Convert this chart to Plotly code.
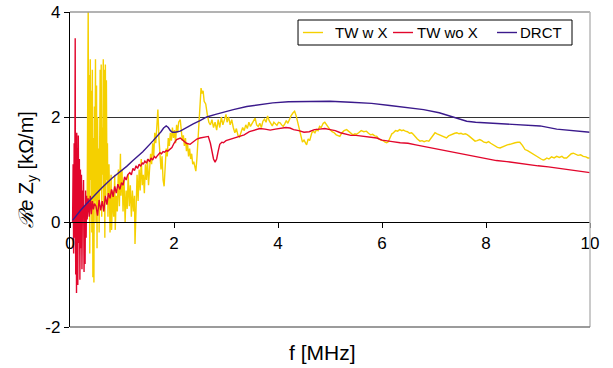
import plotly.graph_objects as go

# ---- series: TW w X (yellow) ----
f_tw_x = [0.33, 0.35, 0.36, 0.37, 0.38, 0.39, 0.40, 0.41, 0.42, 0.43, 0.44, 0.45, 0.46, 0.47, 0.48,
          0.49, 0.50, 0.51, 0.52, 0.53, 0.54, 0.55, 0.56, 0.58, 0.59, 0.60, 0.61, 0.62, 0.63, 0.64,
          0.65, 0.66, 0.67, 0.68, 0.69, 0.70, 0.71, 0.72, 0.73, 0.75, 0.77, 0.79, 0.80, 0.82, 0.84,
          0.86, 0.87, 0.89, 0.91, 0.93, 0.95, 0.97, 0.98, 1.00, 1.02, 1.04, 1.06, 1.08, 1.10, 1.12,
          1.14, 1.16, 1.18, 1.20, 1.22, 1.24, 1.25, 1.27, 1.29, 1.31, 1.33, 1.35, 1.37, 1.39, 1.41,
          1.43, 1.45, 1.47, 1.49, 1.51, 1.53, 1.55, 1.57, 1.59, 1.61, 1.63, 1.65, 1.67, 1.69, 1.71,
          1.73, 1.75, 1.77, 1.79, 1.81, 1.83, 1.85, 1.87, 1.89, 1.91, 1.93, 1.95, 1.97, 1.99, 2.01,
          2.03, 2.05, 2.07, 2.09, 2.12, 2.14, 2.16, 2.18, 2.20, 2.22, 2.24, 2.26, 2.28, 2.30, 2.32,
          2.34, 2.36, 2.38, 2.40, 2.42, 2.44, 2.46, 2.48, 2.50, 2.52, 2.54, 2.56, 2.58, 2.61, 2.64,
          2.67, 2.70, 2.73, 2.76, 2.79, 2.82, 2.85, 2.88, 2.91, 2.94, 2.97, 3.00, 3.02, 3.05, 3.08,
          3.11, 3.14, 3.17, 3.20, 3.23, 3.26, 3.29, 3.32, 3.35, 3.38, 3.41, 3.44, 3.47, 3.50, 3.53,
          3.56, 3.59, 3.62, 3.65, 3.68, 3.71, 3.74, 3.77, 3.80, 3.83, 3.86, 3.89, 3.92, 3.95, 3.98,
          4.01, 4.04, 4.07, 4.10, 4.13, 4.16, 4.19, 4.22, 4.25, 4.29, 4.32, 4.35, 4.38, 4.41, 4.44,
          4.47, 4.50, 4.53, 4.55, 4.58, 4.61, 4.65, 4.68, 4.71, 4.74, 4.77, 4.80, 4.83, 4.87, 4.90,
          4.93, 4.96, 5.00, 5.04, 5.08, 5.12, 5.16, 5.19, 5.23, 5.27, 5.32, 5.36, 5.40, 5.44, 5.48,
          5.51, 5.55, 5.60, 5.65, 5.70, 5.74, 5.78, 5.82, 5.86, 5.90, 5.94, 5.98, 6.02, 6.06, 6.09,
          6.12, 6.15, 6.19, 6.22, 6.26, 6.30, 6.34, 6.38, 6.41, 6.45, 6.49, 6.53, 6.57, 6.60, 6.64,
          6.68, 6.73, 6.77, 6.81, 6.86, 6.90, 6.94, 6.98, 7.02, 7.06, 7.10, 7.14, 7.18, 7.21, 7.24,
          7.28, 7.32, 7.36, 7.40, 7.44, 7.48, 7.52, 7.56, 7.60, 7.63, 7.67, 7.71, 7.75, 7.79, 7.83,
          7.88, 7.92, 7.96, 8.01, 8.05, 8.09, 8.13, 8.18, 8.22, 8.27, 8.31, 8.36, 8.41, 8.46, 8.51,
          8.56, 8.61, 8.65, 8.70, 8.75, 8.80, 8.86, 8.91, 8.96, 9.01, 9.06, 9.10, 9.13, 9.17, 9.21,
          9.26, 9.31, 9.36, 9.41, 9.46, 9.50, 9.55, 9.60, 9.64, 9.68, 9.72, 9.77, 9.82, 9.87, 9.92,
          9.96, 10.0]
v_tw_x = [0.3, 4.1, 0.2, 2.8, -0.6, 3.1, 0.8, 2.5, -0.2, 2.9, -1.05, 1.6, -1.15, 2.2, 0.4,
          3.1, 0.0, 2.6, -0.5, 2.0, 0.3, 1.4, -0.2, 2.9, 0.6, 3.0, 0.1, 1.8, 0.9, 3.1,
          0.2, 2.9, -0.3, 3.0, 0.5, 2.7, 0.8, 1.5, 0.1, 1.1, -0.2, 0.9, -0.15, 0.6, 0.1,
          0.9, -0.15, 0.5, 0.2, 1.0, 0.3, 1.3, 0.5, 1.0, 0.2, 0.8, 0.0, 0.6, 0.25, 0.9,
          0.3, 0.7, 0.1, 0.6, 0.2, 0.5, -0.42, 0.6, 0.9, 0.4, 1.0, 0.6, 1.2, 0.7, 0.9,
          0.55, 1.1, 0.8, 1.2, 0.7, 1.0, 1.3, 1.1, 1.5, 1.25, 1.7, 1.5, 1.9, 2.14, 1.6,
          1.3, 1.0, 1.25, 0.8, 0.68, 1.1, 1.4, 1.25, 1.6, 1.45, 1.7, 1.55, 1.8, 1.6, 1.75,
          1.5, 1.85, 1.7, 1.9, 1.95, 1.75, 1.55, 1.65, 1.45, 1.6, 1.35, 1.5, 1.25, 1.4, 1.2,
          1.3, 1.1, 1.15, 1.05, 0.97, 1.2, 1.6, 2.0, 2.3, 2.55, 2.45, 2.5, 2.3, 2.25, 2.05,
          1.9, 1.85, 1.95, 1.8, 1.9, 1.75, 1.95, 1.8, 2.0, 1.85, 1.95, 2.05, 1.9, 2.0, 1.85,
          1.95, 1.8, 1.7, 1.78, 1.65, 1.62, 1.72, 1.8, 1.74, 1.85, 1.78, 1.9, 1.82, 1.88, 1.95,
          1.98, 1.85, 1.82, 1.88, 1.8, 1.92, 1.96, 1.9, 2.02, 1.93, 1.88, 1.83, 1.9, 1.86, 1.84,
          1.9, 1.89, 1.85, 1.82, 1.87, 1.93, 1.88, 1.97, 2.02, 2.08, 2.11, 2.02, 1.88, 1.75, 1.6,
          1.52, 1.56, 1.5, 1.47, 1.58, 1.55, 1.7, 1.73, 1.7, 1.76, 1.74, 1.82, 1.8, 1.88, 1.9,
          1.85, 1.8, 1.76, 1.72, 1.7, 1.66, 1.64, 1.63, 1.7, 1.74, 1.76, 1.72, 1.7, 1.66, 1.68,
          1.67, 1.7, 1.74, 1.72, 1.73, 1.69, 1.66, 1.67, 1.64, 1.63, 1.58, 1.56, 1.55, 1.52, 1.51,
          1.53, 1.6, 1.68, 1.7, 1.74, 1.73, 1.76, 1.74, 1.75, 1.73, 1.72, 1.69, 1.7, 1.67, 1.62,
          1.58, 1.54, 1.55, 1.53, 1.55, 1.54, 1.6, 1.66, 1.7, 1.68, 1.66, 1.64, 1.62, 1.61, 1.6,
          1.64, 1.66, 1.68, 1.69, 1.7, 1.68, 1.69, 1.67, 1.68, 1.67, 1.64, 1.6, 1.56, 1.54, 1.55,
          1.57, 1.55, 1.52, 1.51, 1.53, 1.5, 1.47, 1.44, 1.42, 1.41, 1.43, 1.46, 1.47, 1.48, 1.5,
          1.51, 1.52, 1.52, 1.46, 1.38, 1.36, 1.32, 1.29, 1.25, 1.22, 1.2, 1.18, 1.19, 1.22, 1.2,
          1.24, 1.22, 1.25, 1.23, 1.25, 1.22, 1.22, 1.26, 1.3, 1.31, 1.29, 1.27, 1.28, 1.25, 1.24,
          1.22, 1.22]

# ---- series: TW wo X (red) ----
f_tw_wo = [0.05, 0.06, 0.07, 0.08, 0.09, 0.10, 0.105, 0.11, 0.12, 0.125, 0.13, 0.14, 0.145, 0.15,
           0.16, 0.17, 0.18, 0.19, 0.20, 0.21, 0.22, 0.23, 0.24, 0.25, 0.26, 0.27, 0.28, 0.29,
           0.30, 0.31, 0.32, 0.33, 0.35, 0.37, 0.39, 0.41, 0.43, 0.45, 0.47, 0.50, 0.53, 0.56,
           0.59, 0.62, 0.65, 0.68, 0.71, 0.74, 0.77, 0.80, 0.83, 0.86, 0.89, 0.92, 0.96, 0.99,
           1.02, 1.05, 1.08, 1.11, 1.15, 1.18, 1.21, 1.24, 1.27, 1.30, 1.33, 1.36, 1.39, 1.41,
           1.44, 1.47, 1.50, 1.53, 1.56, 1.59, 1.62, 1.65, 1.67, 1.70, 1.73, 1.76, 1.79, 1.82,
           1.85, 1.88, 1.92, 1.96, 2.00, 2.05, 2.12, 2.18, 2.24, 2.31, 2.38, 2.44, 2.50, 2.58,
           2.66, 2.70, 2.73, 2.76, 2.79, 2.82, 2.85, 2.88, 2.92, 2.95, 3.00, 3.10, 3.20, 3.27,
           3.35, 3.45, 3.55, 3.65, 3.75, 3.85, 3.95, 4.05, 4.15, 4.23, 4.30, 4.40, 4.50, 4.60,
           4.70, 4.80, 4.90, 5.00, 5.10, 5.20, 5.30, 5.40, 5.50, 5.60, 5.70, 5.80, 5.90, 6.00,
           6.10, 6.20, 6.35, 6.50, 6.65, 6.80, 7.00, 7.20, 7.44, 7.60, 7.80, 8.00, 8.20, 8.40,
           8.60, 8.80, 9.00, 9.20, 9.40, 9.60, 9.80, 10.0]
v_tw_wo = [0.0, 1.1, -0.6, 1.5, -0.3, 3.5, 0.2, -1.0, 1.6, -1.35, 1.7, -0.7, 1.4, -1.2,
           1.65, -0.4, 1.2, -1.1, 1.0, -0.5, 0.9, -0.9, 0.6, 0.1, 0.8, -0.95, 0.3, -0.8,
           0.6, -0.3, 0.5, 0.05, 0.45, 0.1, 0.5, 0.15, 0.4, 0.24, 0.35, 0.3, 0.12, 0.42,
           0.22, 0.4, 0.2, 0.5, 0.33, 0.55, 0.45, 0.62, 0.48, 0.68, 0.55, 0.72, 0.62, 0.75,
           0.7, 0.86, 0.8, 0.9, 0.94, 0.9, 1.02, 0.98, 1.07, 1.02, 1.1, 1.06, 1.13, 1.1,
           1.16, 1.12, 1.2, 1.15, 1.22, 1.18, 1.25, 1.22, 1.25, 1.28, 1.32, 1.3, 1.34, 1.33,
           1.36, 1.35, 1.38, 1.42, 1.5, 1.57, 1.6, 1.55, 1.5, 1.48, 1.54, 1.58, 1.6, 1.62,
           1.63, 1.5, 1.35, 1.2, 1.14, 1.2, 1.35, 1.48, 1.52, 1.51, 1.55, 1.58, 1.62, 1.63,
           1.66, 1.72, 1.75, 1.78, 1.77, 1.75, 1.77, 1.78, 1.8, 1.79, 1.76, 1.74, 1.71, 1.72,
           1.76, 1.77, 1.78, 1.76, 1.74, 1.7, 1.67, 1.65, 1.65, 1.64, 1.63, 1.62, 1.6, 1.56,
           1.54, 1.53, 1.51, 1.5, 1.47, 1.44, 1.4, 1.36, 1.32, 1.28, 1.24, 1.2, 1.17, 1.15,
           1.12, 1.09, 1.07, 1.05, 1.02, 0.99, 0.96, 0.94]

# ---- series: DRCT (dark blue) ----
f_drct = [0.05, 0.10, 0.20, 0.30, 0.45, 0.60, 0.80, 1.00, 1.09, 1.20, 1.40, 1.60, 1.67, 1.75,
          1.80, 1.85, 1.89, 1.93, 1.97, 2.02, 2.12, 2.20, 2.37, 2.50, 2.63, 2.80, 3.00, 3.14,
          3.40, 3.65, 3.90, 4.20, 4.60, 5.00, 5.40, 5.80, 6.15, 6.50, 6.80, 7.10, 7.31, 7.50,
          7.63, 7.80, 8.10, 8.40, 8.70, 9.04, 9.36, 9.70, 10.0]
v_drct = [0.03, 0.1, 0.22, 0.33, 0.49, 0.64, 0.83, 0.98, 1.06, 1.16, 1.34, 1.55, 1.62, 1.72,
          1.79, 1.83, 1.8, 1.74, 1.71, 1.71, 1.73, 1.78, 1.87, 1.93, 2.0, 2.05, 2.11, 2.14,
          2.2, 2.24, 2.27, 2.29, 2.3, 2.3, 2.28, 2.26, 2.22, 2.18, 2.14, 2.08, 2.02, 1.96,
          1.92, 1.9, 1.88, 1.86, 1.85, 1.83, 1.77, 1.74, 1.71]

x_ticks = [0, 2, 4, 6, 8, 10]
y_ticks = [-2, 0, 2, 4]

series_names = ["TW w X", "TW wo X", "DRCT"]
series_colors = ["#f5d000", "#e2062c", "#3b1a8c"]

FONT = "Liberation Sans, Arial, sans-serif"

fig = go.Figure()
for (fx, fv), name, color in zip([(f_tw_x, v_tw_x), (f_tw_wo, v_tw_wo), (f_drct, v_drct)],
                                 series_names, series_colors):
    fig.add_trace(go.Scatter(x=fx, y=fv, mode="lines", name=name, showlegend=False,
                             line=dict(color=color, width=1.4)))

# gray frame on top, right and bottom of the plot area
frame = dict(type="line", xref="paper", yref="paper", layer="above")
fig.add_shape(**frame, x0=0, x1=1, y0=1, y1=1, line=dict(color="#9a9a9a", width=1.5))
fig.add_shape(**frame, x0=1, x1=1, y0=0, y1=1, line=dict(color="#b8b8b8", width=1.5))
fig.add_shape(**frame, x0=0, x1=1, y0=0, y1=0, line=dict(color="#7a7a7a", width=1.5))

# legend box with short line samples
fig.add_shape(type="rect", xref="paper", yref="paper", layer="above",
              x0=0.4385, x1=0.9654, y0=0.8952, y1=0.9746,
              line=dict(color="black", width=1), fillcolor="white")
legend_line_x = [(0.448, 0.4865), (0.6212, 0.6596), (0.8212, 0.8596)]
legend_text_x = [0.5065, 0.664, 0.862]
for (lx0, lx1), tx, name, color in zip(legend_line_x, legend_text_x, series_names, series_colors):
    fig.add_shape(type="line", xref="paper", yref="paper", layer="above",
                  x0=lx0, x1=lx1, y0=0.9349, y1=0.9349, line=dict(color=color, width=1.4))
    fig.add_annotation(text=name, xref="paper", yref="paper", x=tx, y=0.9349,
                       xanchor="left", yanchor="middle", showarrow=False,
                       font=dict(family=FONT, size=15, color="black"))

fig.add_annotation(text="f [MHz]", xref="paper", yref="paper", x=0.485, y=-0.08,
                   xanchor="center", yanchor="middle", showarrow=False,
                   font=dict(family=FONT, size=21, color="black"))

fig.update_layout(
    width=613, height=368,
    margin=dict(l=70, r=23, t=12, b=41),
    paper_bgcolor="white", plot_bgcolor="white",
    font=dict(family=FONT, size=17, color="black"),
    showlegend=False,
    xaxis=dict(range=[0, 10], tickvals=x_ticks, ticktext=[str(t) for t in x_ticks],
               anchor="free", position=1 / 3, automargin=False,
               showline=True, linecolor="black", linewidth=1.3,
               ticks="outside", ticklen=5, tickcolor="black",
               showgrid=False, zeroline=False,
               tickfont=dict(family=FONT, size=17, color="black")),
    yaxis=dict(range=[-2, 4], tickvals=y_ticks, ticktext=[str(t) for t in y_ticks],
               automargin=False,
               showline=True, linecolor="black", linewidth=1.3,
               ticks="outside", ticklen=5, tickcolor="black",
               showgrid=True, gridcolor="#333333", gridwidth=1.3, zeroline=False,
               tickfont=dict(family=FONT, size=17, color="black"),
               title=dict(text="<i>ℛe</i> Z<sub>y</sub> [kΩ/m]",
                          font=dict(family=FONT, size=20, color="black"), standoff=6)),
)

fig.write_html("out.html")
